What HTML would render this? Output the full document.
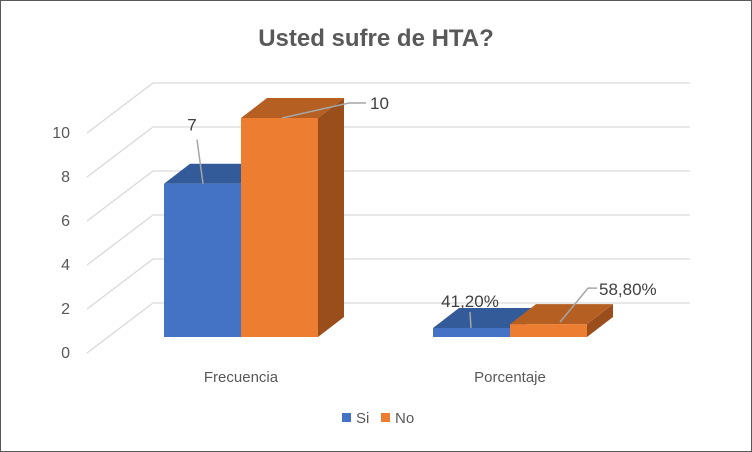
<!DOCTYPE html>
<html><head><meta charset="utf-8"><style>
body{margin:0;background:#fff}
svg{display:block;font-family:"Liberation Sans",sans-serif}
</style></head><body>
<svg width="752" height="452" viewBox="0 0 752 452">
<rect x="0.5" y="0.5" width="751" height="451" fill="#fff" stroke="#595959"/>
<text x="376" y="46" text-anchor="middle" font-size="24" font-weight="bold" fill="#595959">Usted sufre de HTA?</text>
<g id="grid"></g>
<g id="bars"></g>
<g id="labels"></g>
<rect x="342" y="413" width="9" height="9" fill="#4472c4"/>
<text x="356" y="423" font-size="15" fill="#595959">Si</text>
<rect x="381" y="413" width="9" height="9" fill="#ed7d31"/>
<text x="395" y="423" font-size="15" fill="#595959">No</text>
</svg>
<script>
const categories=["Frecuencia","Porcentaje"];
const siValues=[7,0.412];
const noValues=[10,0.588];
const siLabels=["7","41,20%"];
const noLabels=["10","58,80%"];
const yTicks=[0,2,4,6,8,10];
const NS="http://www.w3.org/2000/svg";
function mk(tag,attrs,parent){const e=document.createElementNS(NS,tag);for(const k in attrs)e.setAttribute(k,attrs[k]);parent.appendChild(e);return e;}
const grid=document.getElementById('grid'),bars=document.getElementById('bars'),labels=document.getElementById('labels');
const backY=v=>303-v*22;
const frontY=v=>337-v*21.9;
const DX=26,DY=-20;
for(const t of yTicks){
  const y=backY(t);
  const l1=mk('line',{x1:153,y1:y,x2:690,y2:y,stroke:'#d9d9d9','stroke-width':1.3},grid);
  
  
  const l2=mk('line',{x1:87,y1:y+50,x2:153,y2:y,stroke:'#d9d9d9','stroke-width':1.3},grid);
  
  
  const tx=mk('text',{x:70,y:y+50+5,'text-anchor':'end','font-size':16,fill:'#595959'},labels);
  tx.textContent=t;
  
  
}
const catX=[164,433],BW=77;
function bar3d(x,v,front,top,side,name){
  const y0=frontY(0),y1=frontY(v);
  const g=mk('g',{},bars);
  
  
  mk('polygon',{points:`${x+BW},${y0} ${x+BW+DX},${y0+DY} ${x+BW+DX},${y1+DY} ${x+BW},${y1}`,fill:side},g);
  mk('polygon',{points:`${x},${y1} ${x+DX},${y1+DY} ${x+BW+DX},${y1+DY} ${x+BW},${y1}`,fill:top},g);
  mk('rect',{x:x,y:y1,width:BW,height:y0-y1,fill:front},g);
  return y1;
}
function callout(x1,y1,x2,y2,x3,y3,tx,ty,txt,name,anchor){
  const p=mk('polyline',{points:`${x1},${y1} ${x2},${y2} ${x3},${y3}`,fill:'none',stroke:'#a6a6a6','stroke-width':1.5},labels);
  
  
  const t=mk('text',{x:tx,y:ty,'font-size':17,fill:'#404040','text-anchor':anchor||'start'},labels);
  t.textContent=txt;
  
  
}
categories.forEach((c,i)=>{
  const x=catX[i];
  const ys=bar3d(x,siValues[i],'#4472c4','#335a99','#2f5597','bar-si-'+c.toLowerCase());
  const yn=bar3d(x+BW,noValues[i],'#ed7d31','#b55f22','#9a4e1c','bar-no-'+c.toLowerCase());
  const t=mk('text',{x:x+BW,y:382,'text-anchor':'middle','font-size':15,fill:'#595959'},labels);
  t.textContent=c;
  
  
  if(i==0){
    callout(x+39,ys,x+33,ys-44,x+33,ys-44,x+28,ys-53,siLabels[i],'data-label-si-'+i,'middle');
    callout(x+BW+41,yn,x+BW+108,yn-15,x+BW+125,yn-15,x+BW+129,yn-9,noLabels[i],'data-label-no-'+i);
  }else{
    callout(x+38,ys,x+37,ys-16,x+37,ys-16,x+37,ys-21,siLabels[i],'data-label-si-'+i,'middle');
    callout(x+BW+50,yn-2,x+BW+78,yn-36,x+BW+87,yn-36,x+BW+89,yn-29,noLabels[i],'data-label-no-'+i);
  }
});
</script>
</body></html>
